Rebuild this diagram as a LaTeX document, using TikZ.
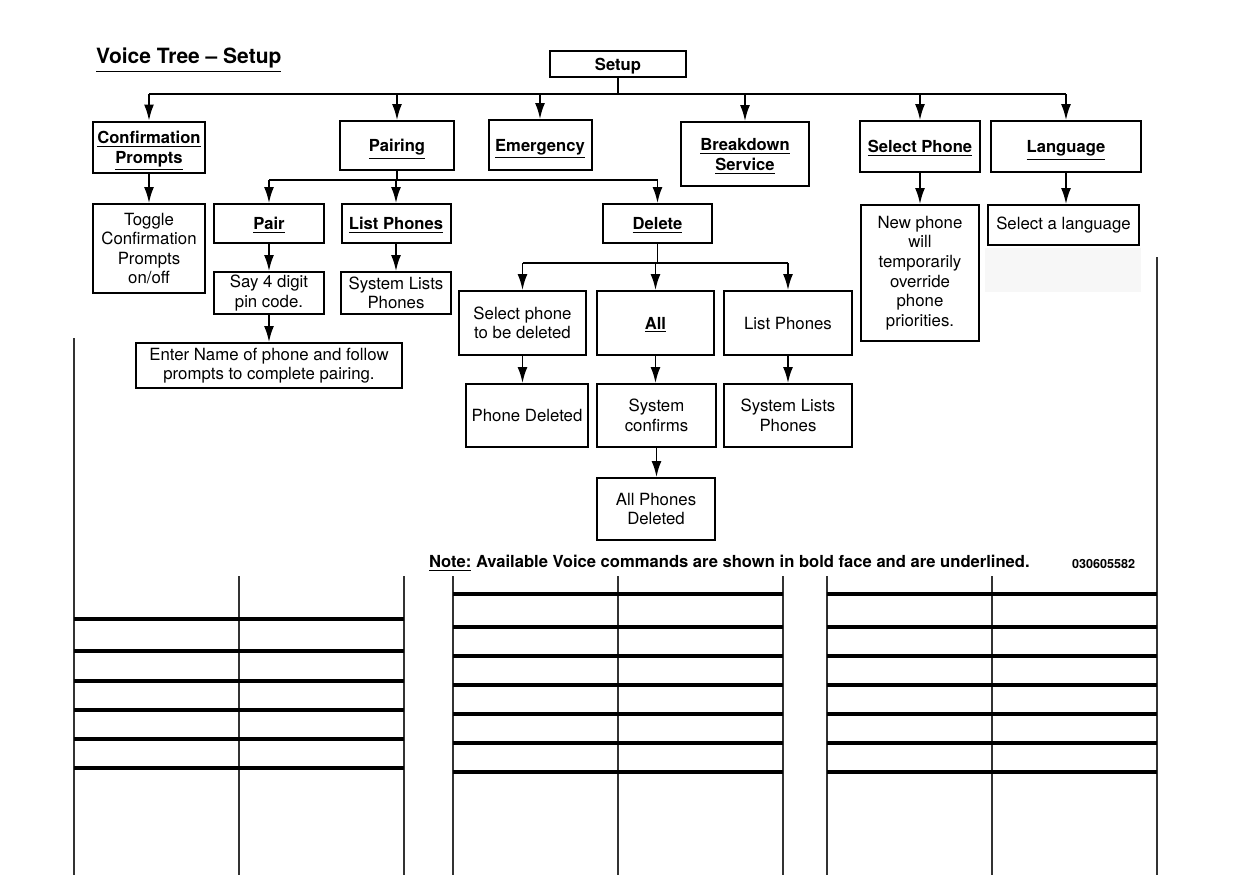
\documentclass[tikz,border=0pt]{standalone}
\usepackage{fontspec}
\setmainfont{TeX Gyre Heros}
\usetikzlibrary{arrows.meta}
\tikzset{
  box/.style={draw, line width=1pt, align=center, inner sep=1pt, font=\fontsize{8.4}{9.8}\selectfont},
  cmdbox/.style={box, text depth=0pt, font=\fontsize{8.3}{10}\selectfont\bfseries},
  sz/.style 2 args={minimum width=#1*0.5pt, minimum height=#2*0.5pt},
  link/.style={line width=0.9pt},
  arr/.style={link, -{Latex[length=8pt,width=5pt]}},
  tabline/.style={line width=0.6pt, black!80},
  tabrule/.style={line width=2pt}
}
\begin{document}
\begin{tikzpicture}[x=0.5pt, y=-0.5pt]
  \useasboundingbox [fill=white] (0,0) rectangle (1239,875);
  \fill [black!3] (985,248) rectangle (1141,292);
  \node (title) at (89,60) [anchor=west, font=\fontsize{10.5}{12}\selectfont\bfseries] {\underline{Voice Tree -- Setup}};
  \node (setup) at (618,64) [cmdbox, sz={136}{26}] {\underline{Setup}};
  \node (conf) at (149,147) [cmdbox, sz={112}{51}] {\underline{Confirmation}\\\underline{Prompts}};
  \node (pairing) at (397,145.5) [cmdbox, sz={114}{49}] {\underline{Pairing}};
  \node (emerg) at (540,145) [cmdbox, sz={103}{50}] {\underline{Emergency}};
  \node (brkdn) at (745,154) [cmdbox, sz={128}{64}] {\underline{Breakdown}\\\underline{Service}};
  \node (selph) at (920,146.5) [cmdbox, sz={120}{51}] {\underline{Select Phone}};
  \node (lang) at (1066,146.5) [cmdbox, sz={150}{51}] {\underline{Language}};
  \node (toggle) at (149,248.5) [box, sz={112}{89}] {Toggle\\Confirmation\\Prompts\\on/off};
  \node (pair) at (269,223.5) [cmdbox, sz={110}{39}] {\underline{Pair}};
  \node (listph) at (396,223.5) [cmdbox, sz={109}{39}] {\underline{List Phones}};
  \node (delete) at (657.5,223.5) [cmdbox, sz={109}{39}] {\underline{Delete}};
  \node (saypin) at (269,293) [box, sz={110}{42}] {Say 4 digit\\pin code.};
  \node (syslist) at (396,293) [box, sz={110}{42}] {System Lists\\Phones};
  \node (enter) at (269,365.5) [box, sz={266}{45}] {Enter Name of phone and follow\\prompts to complete pairing.};
  \node (selph2) at (920,273) [box, sz={118}{136}] {New phone\\will\\temporarily\\override\\phone\\priorities.};
  \node (sellang) at (1063.5,225) [box, sz={151}{40}] {Select a language};
  \node (seldel) at (522.5,323) [box, sz={127}{64}] {Select phone\\to be deleted};
  \node (all) at (655.5,323) [cmdbox, sz={117}{64}] {\underline{All}};
  \node (listph2) at (788,323) [box, sz={128}{64}] {List Phones};
  \node (phdel) at (527,415.5) [box, sz={122}{63}] {Phone Deleted};
  \node (syscon) at (656.5,415.5) [box, sz={119}{63}] {System\\confirms};
  \node (syslist2) at (788,415.5) [box, sz={128}{63}] {System Lists\\Phones};
  \node (allph) at (656,509) [box, sz={118}{62}] {All Phones\\Deleted};
  \node (note) at (422,563) [anchor=west, font=\fontsize{8.3}{10}\selectfont\bfseries] {\underline{Note:} Available Voice commands are shown in bold face and are underlined.};
  \node (code) at (1065,564) [anchor=west, font=\fontsize{6.3}{7}\selectfont\bfseries] {030605582};
  \coordinate (bus) at (618,94);
  \coordinate (pbus) at (398,180);
  \coordinate (dbus) at (657,263);
  \draw [link] (setup.south) -- (setup.south |- bus);
  \draw [link] (conf.north |- bus) -- (lang.north |- bus);
  \foreach \n in {conf,pairing,emerg,brkdn,selph,lang}
    \draw [arr] (\n.north |- bus) -- (\n.north);
  \draw [link] (pairing.south) -- (pairing.south |- pbus);
  \draw [link] (pair.north |- pbus) -- (delete.north |- pbus);
  \foreach \n in {pair,listph,delete}
    \draw [arr] (\n.north |- pbus) -- (\n.north);
  \draw [link] (delete.south) -- (delete.south |- dbus);
  \draw [link] (seldel.north |- dbus) -- (listph2.north |- dbus);
  \foreach \n in {seldel,all,listph2}
    \draw [arr] (\n.north |- dbus) -- (\n.north);
  \draw [arr] (conf.south) -- (conf.south |- toggle.north);
  \draw [arr] (pair.south) -- (pair.south |- saypin.north);
  \draw [arr] (listph.south) -- (listph.south |- syslist.north);
  \draw [arr] (saypin.south) -- (saypin.south |- enter.north);
  \draw [arr] (selph.south) -- (selph.south |- selph2.north);
  \draw [arr] (lang.south) -- (lang.south |- sellang.north);
  \draw [arr] (seldel.south) -- (seldel.south |- phdel.north);
  \draw [arr] (all.south) -- (all.south |- syscon.north);
  \draw [arr] (listph2.south) -- (listph2.south |- syslist2.north);
  \draw [arr] (syscon.south) -- (syscon.south |- allph.north);
  \draw [tabline] (74,338) -- (74,875);
  \draw [tabline] (239,576) -- (239,875);
  \draw [tabline] (404,576) -- (404,875);
  \draw [tabline] (453,576) -- (453,875);
  \draw [tabline] (618,576) -- (618,875);
  \draw [tabline] (783,576) -- (783,875);
  \draw [tabline] (827,576) -- (827,875);
  \draw [tabline] (992,576) -- (992,875);
  \draw [tabline] (1157,257) -- (1157,875);
  \foreach \y in {619,651,681,710,739,768}
    \draw [tabrule] (74,\y) -- (404,\y);
  \foreach \y in {594,627,656,685,714,743,772} {
    \draw [tabrule] (453,\y) -- (783,\y);
    \draw [tabrule] (827,\y) -- (1157,\y);
  }
\end{tikzpicture}
\end{document}
